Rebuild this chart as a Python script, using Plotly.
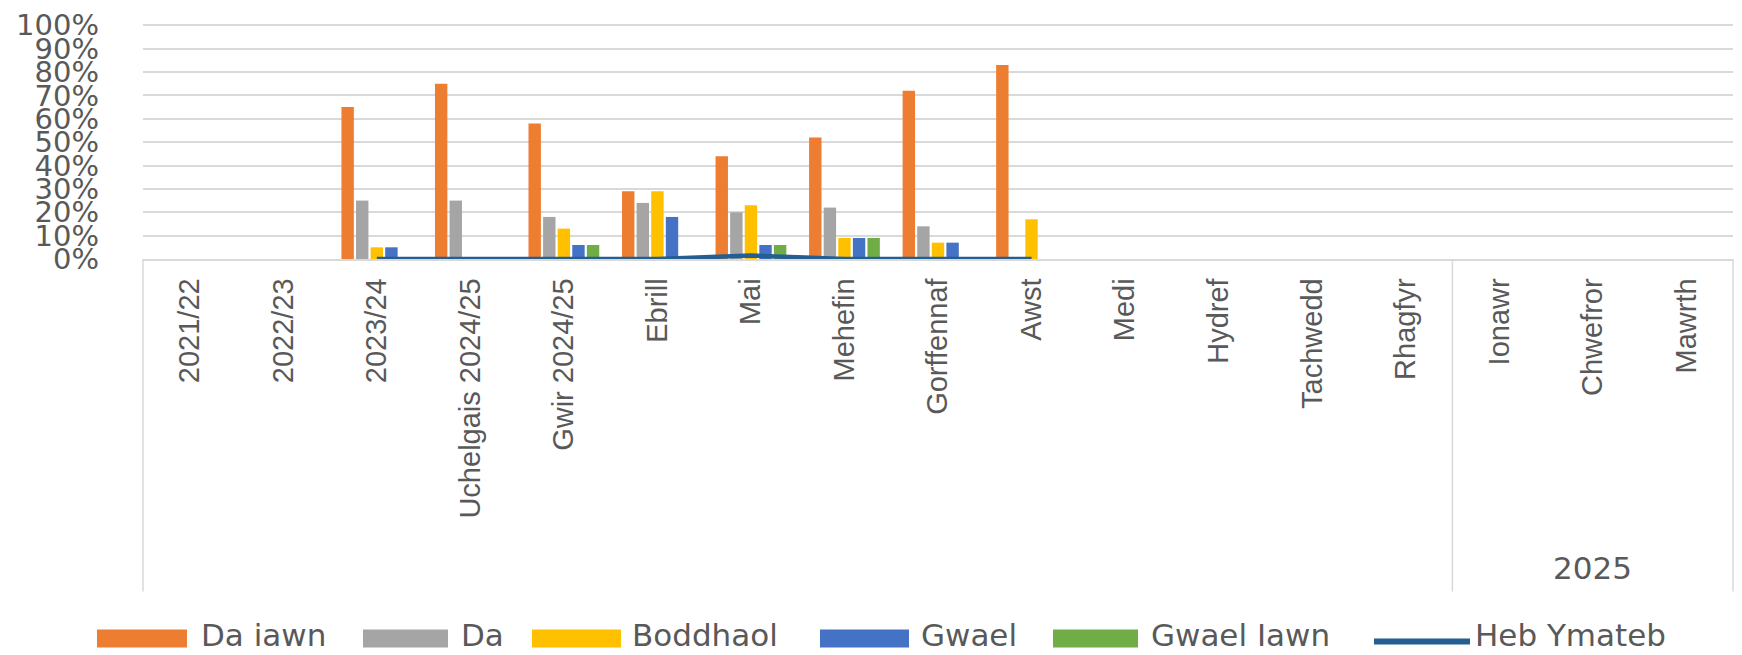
import plotly.graph_objects as go

categories = ["2021/22", "2022/23", "2023/24", "Uchelgais 2024/25", "Gwir 2024/25",
              "Ebrill", "Mai", "Mehefin", "Gorffennaf", "Awst", "Medi", "Hydref",
              "Tachwedd", "Rhagfyr", "Ionawr", "Chwefror", "Mawrth"]
group_label = "2025"
group_start = "Ionawr"

da_iawn    = [None, None, 65, 75, 58, 29, 44, 52, 72, 83, None, None, None, None, None, None, None]
da         = [None, None, 25, 25, 18, 24, 20, 22, 14, 0, None, None, None, None, None, None, None]
boddhaol   = [None, None, 5, 0, 13, 29, 23, 9, 7, 17, None, None, None, None, None, None, None]
gwael      = [None, None, 5, 0, 6, 18, 6, 9, 7, 0, None, None, None, None, None, None, None]
gwael_iawn = [None, None, 0, 0, 6, 0, 6, 9, 0, 0, None, None, None, None, None, None, None]
heb_ymateb = [None, None, 0, 0, 0, 0, 1.5, 0, 0, 0, None, None, None, None, None, None, None]

y_ticks = list(range(0, 101, 10))
y_tick_labels = [f"{v}%" for v in y_ticks]
y_max = 101

bar_series = [
    ("Da iawn", da_iawn, "#ED7D31"),
    ("Da", da, "#A5A5A5"),
    ("Boddhaol", boddhaol, "#FFC000"),
    ("Gwael", gwael, "#4472C4"),
    ("Gwael Iawn", gwael_iawn, "#70AD47"),
]
line_name = "Heb Ymateb"
line_color = "#255E91"

FONT = "DejaVu Sans"
CAT_FONT = "Liberation Sans"
TXT = "#595959"
GRID = "#D9D9D9"

W, H = 1742, 655
PLOT_L, PLOT_R, AXIS = 143, 1733, 259      # page pixels
Y100 = 25                                  # page pixel of the 100% gridline
PLOT_T = AXIS - (AXIS - Y100) * y_max / 100
L = PLOT_L
R = W - PLOT_R
T = PLOT_T
B = H - AXIS
PW, PH = W - L - R, H - T - B


def px_x(px):
    return (px - PLOT_L) / PW


def px_y(py):
    return (AXIS - py) / PH


fig = go.Figure()
for name, vals, col in bar_series:
    fig.add_trace(go.Bar(x=categories, y=vals, name=name, marker_color=col,
                         marker_line_width=0, showlegend=False))
fig.add_trace(go.Scatter(x=categories, y=heb_ymateb, name=line_name, mode="lines",
                         line=dict(color=line_color, width=4.5), showlegend=False))

shapes = []
annotations = []
bottom = px_y(592)
for xv in (0, 1):
    shapes.append(dict(type="line", xref="paper", yref="paper", x0=xv, x1=xv, y0=0, y1=bottom,
                       line=dict(color=GRID, width=1.5)))
idx = categories.index(group_start)
shapes.append(dict(type="line", xref="x", yref="paper", x0=idx - 0.5, x1=idx - 0.5,
                   y0=0, y1=bottom, line=dict(color=GRID, width=1.5)))
annotations.append(dict(text=group_label, xref="x", yref="paper",
                        x=categories[idx + 1], y=px_y(568), showarrow=False,
                        font=dict(family=FONT, size=31, color=TXT),
                        xanchor="center", yanchor="middle"))

legend_items = [
    ("Da iawn", "#ED7D31", 97, 187, 199),
    ("Da", "#A5A5A5", 363, 448, 459),
    ("Boddhaol", "#FFC000", 532, 621, 630),
    ("Gwael", "#4472C4", 820, 909, 919),
    ("Gwael Iawn", "#70AD47", 1053, 1138, 1149),
]
sw_top, sw_bot, txt_y = 630, 648, 636
for name, col, x0, x1, tx in legend_items:
    shapes.append(dict(type="rect", xref="paper", yref="paper", x0=px_x(x0), x1=px_x(x1),
                       y0=px_y(sw_bot), y1=px_y(sw_top), fillcolor=col, line_width=0))
    annotations.append(dict(text=name, xref="paper", yref="paper", x=px_x(tx), y=px_y(txt_y),
                            showarrow=False, xanchor="left", yanchor="middle",
                            font=dict(family=FONT, size=31, color=TXT)))
shapes.append(dict(type="line", xref="paper", yref="paper", x0=px_x(1374), x1=px_x(1470),
                   y0=px_y(642), y1=px_y(642), line=dict(color=line_color, width=6)))
annotations.append(dict(text=line_name, xref="paper", yref="paper", x=px_x(1473), y=px_y(txt_y),
                        showarrow=False, xanchor="left", yanchor="middle",
                        font=dict(family=FONT, size=31, color=TXT)))

fig.update_layout(
    width=W, height=H,
    margin=dict(l=L, r=R, t=T, b=B, autoexpand=False),
    paper_bgcolor="white", plot_bgcolor="white",
    barmode="group", bargap=0.22, bargroupgap=0.15,
    shapes=shapes, annotations=annotations,
    showlegend=False,
)
fig.update_xaxes(type="category", categoryorder="array", categoryarray=categories,
                 range=[-0.5, len(categories) - 0.5], automargin=False,
                 tickangle=-90, tickfont=dict(family=CAT_FONT, size=29, color=TXT),
                 showgrid=False, showline=True, linecolor=GRID, linewidth=1.5,
                 ticks="", ticklabelstandoff=6)
fig.update_yaxes(range=[0, y_max], tickvals=y_ticks, ticktext=y_tick_labels, automargin=False,
                 tickfont=dict(family=FONT, size=29, color=TXT),
                 showgrid=True, gridcolor=GRID, gridwidth=1.5, zeroline=False,
                 showline=False, ticks="", ticklabelstandoff=43)

fig.write_html(
    "out.html",
    config={"displayModeBar": False},
    post_script="document.body.style.margin='0';document.body.style.overflow='hidden';",
)
